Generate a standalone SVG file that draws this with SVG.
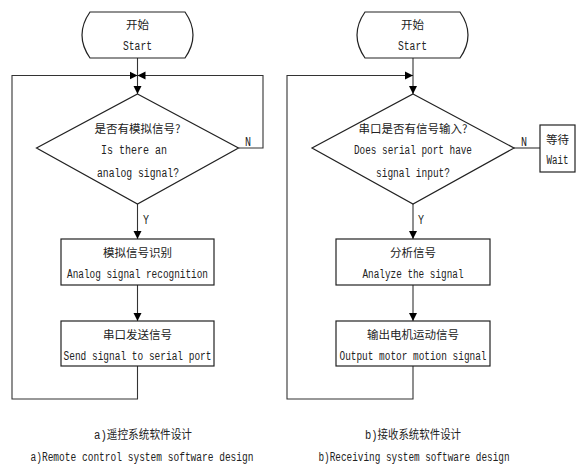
<svg xmlns="http://www.w3.org/2000/svg" width="588" height="466" viewBox="0 0 588 466">
<style>
.shape{fill:#fff;stroke:#222;stroke-width:1.2}
.conn{fill:none;stroke:#333;stroke-width:1.1}
text{font-family:"Liberation Mono","Noto Sans CJK SC",monospace;font-size:12px;fill:#222;text-anchor:middle}
.cjk{font-family:"Noto Sans CJK SC",sans-serif;font-size:11.5px}
</style>
<defs>
<marker id="arr" markerUnits="userSpaceOnUse" markerWidth="9" markerHeight="9" refX="8" refY="4.5" orient="auto">
<path d="M0,0.5 L8,4.5 L0,8.5 Z" fill="#000"/>
</marker>
</defs>
<rect width="588" height="466" fill="#fff"/>
<g id="connectors">
<path class="conn" d="M137.5,58 V94" marker-end="url(#arr)"/>
<path class="conn" d="M137.5,204 V239" marker-end="url(#arr)"/>
<path class="conn" d="M137.5,285 V321" marker-end="url(#arr)"/>
<path class="conn" d="M137.5,366 V399 H12 V75.5 H137.5" marker-end="url(#arr)"/>
<path class="conn" d="M238.5,148 H263 V75.5 H137.5" marker-end="url(#arr)"/>
<path class="conn" d="M413,58 V94" marker-end="url(#arr)"/>
<path class="conn" d="M413,204 V239" marker-end="url(#arr)"/>
<path class="conn" d="M413,285 V321" marker-end="url(#arr)"/>
<path class="conn" d="M413,366 V399 H287 V75.5 H413" marker-end="url(#arr)"/>
<path class="conn" d="M514,148 H540"/>
<text x="248" y="146" textLength="6" lengthAdjust="spacingAndGlyphs">N</text>
<text x="146" y="224" textLength="6" lengthAdjust="spacingAndGlyphs">Y</text>
<text x="524" y="146" textLength="6" lengthAdjust="spacingAndGlyphs">N</text>
<text x="421" y="224" textLength="6" lengthAdjust="spacingAndGlyphs">Y</text>
</g>
<g id="startA">
<path class="shape" d="M90,12 H185 Q201,35 185,58 H90 Q74,35 90,12 Z"/>
<text class="cjk" x="137.5" y="29">开始</text>
<text x="137.5" y="50" textLength="29" lengthAdjust="spacingAndGlyphs">Start</text>
</g>
<g id="decisionA">
<path class="shape" d="M137.5,94 L238.5,148 L137.5,204 L36.5,148 Z"/>
<text class="cjk" x="137.5" y="133">是否有模拟信号?</text>
<text x="134" y="154" textLength="66" lengthAdjust="spacingAndGlyphs">Is there an</text>
<text x="138" y="177" textLength="82" lengthAdjust="spacingAndGlyphs">analog signal?</text>
</g>
<g id="recognizeA">
<rect class="shape" x="61" y="239" width="153" height="46"/>
<text class="cjk" x="137.5" y="257">模拟信号识别</text>
<text x="137.5" y="278" textLength="141" lengthAdjust="spacingAndGlyphs">Analog signal recognition</text>
</g>
<g id="sendA">
<rect class="shape" x="61" y="321" width="153" height="45"/>
<text class="cjk" x="137.5" y="339">串口发送信号</text>
<text x="137.5" y="360" textLength="148" lengthAdjust="spacingAndGlyphs">Send signal to serial port</text>
</g>
<g id="startB">
<path class="shape" d="M365,12 H460 Q476,35 460,58 H365 Q349,35 365,12 Z"/>
<text class="cjk" x="412.5" y="29">开始</text>
<text x="412.5" y="50" textLength="29" lengthAdjust="spacingAndGlyphs">Start</text>
</g>
<g id="decisionB">
<path class="shape" d="M413,94 L514,148 L413,204 L312,148 Z"/>
<text class="cjk" x="413" y="133">串口是否有信号输入?</text>
<text x="413" y="154" textLength="118" lengthAdjust="spacingAndGlyphs">Does serial port have</text>
<text x="413" y="177" textLength="74" lengthAdjust="spacingAndGlyphs">signal input?</text>
</g>
<g id="waitB">
<rect class="shape" x="540" y="125" width="35" height="47"/>
<text class="cjk" x="557.5" y="144">等待</text>
<text x="557.5" y="164" textLength="22" lengthAdjust="spacingAndGlyphs">Wait</text>
</g>
<g id="analyzeB">
<rect class="shape" x="336" y="239" width="154" height="46"/>
<text class="cjk" x="413" y="257">分析信号</text>
<text x="413" y="278" textLength="101" lengthAdjust="spacingAndGlyphs">Analyze the signal</text>
</g>
<g id="outputB">
<rect class="shape" x="336" y="321" width="154" height="45"/>
<text class="cjk" x="413" y="339">输出电机运动信号</text>
<text x="413" y="360" textLength="147" lengthAdjust="spacingAndGlyphs">Output motor motion signal</text>
</g>
<g id="captions">
<text x="143" y="439" textLength="98" lengthAdjust="spacingAndGlyphs">a)遥控系统软件设计</text>
<text x="142" y="461" textLength="223" lengthAdjust="spacingAndGlyphs">a)Remote control system software design</text>
<text x="413" y="439" textLength="96" lengthAdjust="spacingAndGlyphs">b)接收系统软件设计</text>
<text x="414" y="461" textLength="191" lengthAdjust="spacingAndGlyphs">b)Receiving system software design</text>
</g>
</svg>
